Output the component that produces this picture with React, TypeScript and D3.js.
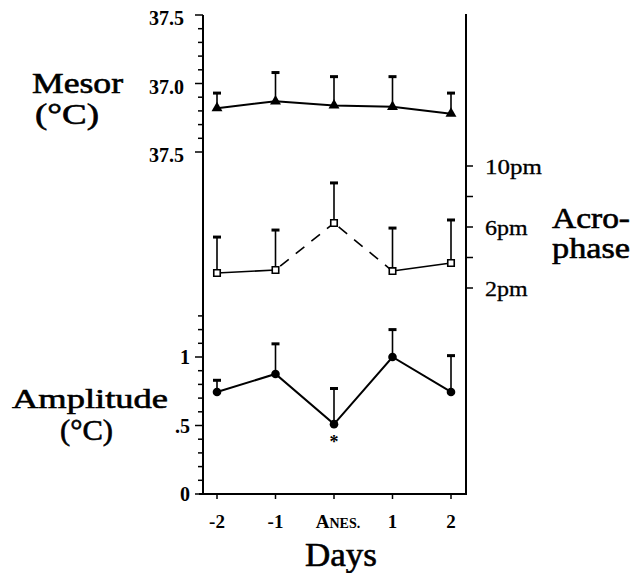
import React from "react";
import * as d3 from "d3";

const days = ["-2", "-1", "ANES.", "1", "2"];
const mesor = [36.82, 36.87, 36.84, 36.83, 36.78];
const mesorErr = [0.11, 0.21, 0.21, 0.22, 0.15];
const acrophase = [14.98, 15.18, 18.26, 15.11, 15.64];
const acroErr = [2.36, 2.62, 2.63, 2.82, 2.82];
const acroLineStyles = ["solid", "dashed", "dashed", "solid"];
const amplitude = [0.745, 0.876, 0.51, 1.0, 0.745];
const ampErr = [0.085, 0.22, 0.26, 0.2, 0.265];
const mesorTickLabels = [
  { v: 37.5, t: "37.5" },
  { v: 37.0, t: "37.0" },
  { v: 36.5, t: "37.5" },
];
const ampTickLabels = [
  { v: 1, t: "1" },
  { v: 0.5, t: ".5" },
  { v: 0, t: "0" },
];
const acroTickLabels = [
  { v: 22, t: "10pm" },
  { v: 18, t: "6pm" },
  { v: 14, t: "2pm" },
];
const acroTicks = [14, 16, 18, 20, 22];

const W = 636;
const H = 573;
const AX_L = 203;
const AX_R = 466;
const AX_B = 494;
const AX_T = 15;

const serif = "'Liberation Serif', 'Times New Roman', serif";

export default function App() {
  const x = d3.scalePoint<string>().domain(days).range([217, 451]);
  const yM = d3.scaleLinear().domain([36.5, 37.5]).range([152, 15]);
  const yA = d3.scaleLinear().domain([0, 1]).range([494, 357]);
  const yP = d3.scaleLinear().domain([14, 22]).range([288, 166]);

  const mesorTicks = d3.range(0, 11).map((i) => 36.5 + i * 0.1);
  const ampTicks = d3.range(0, 14).map((i) => i * 0.1);

  const line = d3.line<[number, number]>();
  const tri = d3.symbol().type(d3.symbolTriangle).size(52)();
  const sq = d3.symbol().type(d3.symbolSquare).size(42)();

  const errBar = (cx: number, y0: number, y1: number, key: string) => (
    <g key={key}>
      <line x1={cx} x2={cx} y1={y0} y2={y1} stroke="#000" strokeWidth={1.6} />
      <line x1={cx - 4} x2={cx + 4} y1={y1} y2={y1} stroke="#000" strokeWidth={3} />
    </g>
  );

  const mesorPts: [number, number][] = days.map((d, i) => [x(d)!, yM(mesor[i])]);
  const acroPts: [number, number][] = days.map((d, i) => [x(d)!, yP(acrophase[i])]);
  const ampPts: [number, number][] = days.map((d, i) => [x(d)!, yA(amplitude[i])]);

  const heavy = { stroke: "#000", strokeWidth: 0.6 };

  return (
    <svg
      width={W}
      height={H}
      style={{ position: "absolute", left: 0, top: 0, background: "#fff" }}
      fontFamily={serif}
    >
      <rect width={W} height={H} fill="#fff" />
      {/* axes */}
      <line x1={AX_L} x2={AX_L} y1={AX_T} y2={AX_B + 1} stroke="#000" strokeWidth={2} />
      <line x1={AX_R} x2={AX_R} y1={AX_T - 1} y2={AX_B + 1} stroke="#000" strokeWidth={2} />
      <line x1={AX_L - 4} x2={AX_R + 1} y1={AX_B} y2={AX_B} stroke="#000" strokeWidth={2} />

      {/* mesor ticks */}
      {mesorTicks.map((v, i) => (
        <line
          key={"mt" + i}
          x1={AX_L - (i % 5 === 0 ? 8 : 5)}
          x2={AX_L}
          y1={yM(v)}
          y2={yM(v)}
          stroke="#000"
          strokeWidth={1.5}
        />
      ))}
      {mesorTickLabels.map((l, i) => (
        <text
          key={"ml" + i}
          x={184}
          y={yM(l.v) + 10}
          textAnchor="end"
          fontSize={20}
          fontWeight="bold"
        >
          {l.t}
        </text>
      ))}

      {/* amplitude ticks */}
      {ampTicks.map((v, i) => (
        <line
          key={"at" + i}
          x1={AX_L - (i % 5 === 0 ? 8 : 5)}
          x2={AX_L}
          y1={yA(v)}
          y2={yA(v)}
          stroke="#000"
          strokeWidth={1.5}
        />
      ))}
      {ampTickLabels.map((l, i) => (
        <text
          key={"al" + i}
          x={190}
          y={yA(l.v) + 7}
          textAnchor="end"
          fontSize={20}
          fontWeight="bold"
        >
          {l.t}
        </text>
      ))}

      {/* acrophase ticks */}
      {acroTicks.map((v, i) => (
        <line
          key={"pt" + i}
          x1={AX_R}
          x2={AX_R + 7}
          y1={yP(v)}
          y2={yP(v)}
          stroke="#000"
          strokeWidth={1.5}
        />
      ))}
      {acroTickLabels.map((l, i) => (
        <text key={"pl" + i} x={485} y={yP(l.v) + 8} fontSize={21} textLength={l.t.length * 14.2} lengthAdjust="spacingAndGlyphs" {...heavy} strokeWidth={0.3}>
          {l.t}
        </text>
      ))}

      {/* x ticks */}
      {days.map((d) => (
        <line key={"xt" + d} x1={x(d)!} x2={x(d)!} y1={AX_B} y2={AX_B + 5} stroke="#000" strokeWidth={1.5} />
      ))}
      {days.map((d) =>
        d === "ANES." ? (
          <text key={"xl" + d} x={x(d)! + 4} y={528} textAnchor="middle" fontSize={19} fontWeight="bold">
            A<tspan fontSize={14}>NES.</tspan>
          </text>
        ) : (
          <text key={"xl" + d} x={x(d)!} y={528} textAnchor="middle" fontSize={19} fontWeight="bold">
            {d}
          </text>
        )
      )}

      {/* axis titles */}
      <text x={32} y={93} fontSize={30} textLength={91} lengthAdjust="spacingAndGlyphs" {...heavy}>Mesor</text>
      <text x={35} y={124} fontSize={29} textLength={64} lengthAdjust="spacingAndGlyphs" {...heavy}>(°C)</text>
      <text x={12} y={408} fontSize={28} textLength={156} lengthAdjust="spacingAndGlyphs" {...heavy}>Amplitude</text>
      <text x={60} y={440} fontSize={29} textLength={53} lengthAdjust="spacingAndGlyphs" {...heavy}>(°C)</text>
      <text x={552} y={228} fontSize={30} textLength={78} lengthAdjust="spacingAndGlyphs" {...heavy}>Acro-</text>
      <text x={552} y={258} fontSize={30} textLength={78} lengthAdjust="spacingAndGlyphs" {...heavy}>phase</text>
      <text x={341} y={566} textAnchor="middle" fontSize={33} textLength={72} lengthAdjust="spacingAndGlyphs" {...heavy}>Days</text>

      {/* mesor series */}
      {days.map((d, i) => errBar(x(d)!, yM(mesor[i]), yM(mesor[i] + mesorErr[i]), "me" + i))}
      <path d={line(mesorPts)!} fill="none" stroke="#000" strokeWidth={2} />
      {mesorPts.map((p, i) => (
        <path key={"mm" + i} d={tri!} transform={`translate(${p[0]},${p[1]})`} fill="#000" />
      ))}

      {/* acrophase series */}
      {days.map((d, i) => errBar(x(d)!, yP(acrophase[i]), yP(acrophase[i] + acroErr[i]), "pe" + i))}
      {acroLineStyles.map((s, i) => (
        <path
          key={"pl" + i}
          d={line([acroPts[i], acroPts[i + 1]])!}
          fill="none"
          stroke="#000"
          strokeWidth={1.6}
          strokeDasharray={s === "dashed" ? "11,9" : undefined}
          strokeDashoffset={s === "dashed" ? -6 : undefined}
        />
      ))}
      {acroPts.map((p, i) => (
        <path key={"pm" + i} d={sq!} transform={`translate(${p[0]},${p[1]})`} fill="#fff" stroke="#000" strokeWidth={1.6} />
      ))}

      {/* amplitude series */}
      {days.map((d, i) => errBar(x(d)!, yA(amplitude[i]), yA(amplitude[i] + ampErr[i]), "ae" + i))}
      <path d={line(ampPts)!} fill="none" stroke="#000" strokeWidth={2} />
      {ampPts.map((p, i) => (
        <circle key={"am" + i} cx={p[0]} cy={p[1]} r={4.3} fill="#000" />
      ))}
      <text x={x("ANES.")!} y={yA(amplitude[2]) + 24} textAnchor="middle" fontSize={18} fontWeight="bold">*</text>
    </svg>
  );
}
